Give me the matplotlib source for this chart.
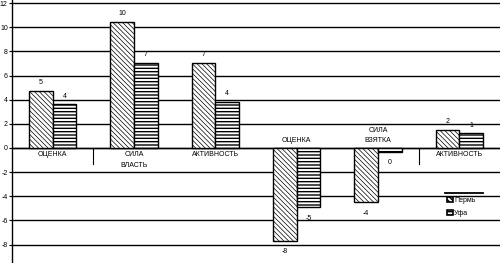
import matplotlib
matplotlib.use("Agg")
import matplotlib.pyplot as plt
import numpy as np
from matplotlib.patches import Patch
from matplotlib.lines import Line2D

categories = ["ОЦЕНКА", "СИЛА\nВЛАСТЬ", "АКТИВНОСТЬ", "ОЦЕНКА", "СИЛА\nВЗЯТКА", "АКТИВНОСТЬ"]
perm = [4.7, 10.4, 7.0, -7.7, -4.5, 1.5]
ufa = [3.6, 7.0, 3.8, -4.9, -0.3, 1.2]
perm_labels = ["5", "10", "7", "-8", "-4", "2"]
ufa_labels = ["4", "7", "4", "-5", "0", "1"]
yticks = [12, 10, 8, 6, 4, 2, 0, -2, -4, -6, -8]
series_names = ["Пермь", "Уфа"]

plt.rcParams['font.family'] = ['Liberation Sans', 'DejaVu Sans']

HATCH_P = "\\" * 7
HATCH_U = "-----"


def set_hlw(artists, lw):
    for a in artists:
        try:
            a.set_hatch_linewidth(lw)
        except Exception:
            pass


fig = plt.figure(figsize=(5, 2.63), dpi=100)
ax = fig.add_axes([0.024, 0.0, 0.976, 1.0])
ax.set_xlim(-0.5, 5.5)
ax.set_ylim(-9.52, 12.25)

x = np.arange(len(categories))
w = 0.29
plt.rcParams['hatch.linewidth'] = 0.5
bp = ax.bar(x - w / 2, perm, w, color="white", edgecolor="black", hatch=HATCH_P, linewidth=1.0, zorder=3)
set_hlw(bp.patches, 0.5)
plt.rcParams['hatch.linewidth'] = 1.0
bu = ax.bar(x + w / 2, ufa, w, color="white", edgecolor="black", hatch=HATCH_U, linewidth=1.0, zorder=3)
set_hlw(bu.patches, 1.0)

for xi, v, lab in zip(x - w / 2, perm, perm_labels):
    off = 0.7 if v >= 0 else -0.9
    ax.text(xi, v + off, lab, ha="center", va="center", fontsize=5)
for xi, v, lab in zip(x + w / 2, ufa, ufa_labels):
    off = 0.7 if v > 0 else -0.9
    ax.text(xi, v + off, lab, ha="center", va="center", fontsize=5)

for i, (cat, v) in enumerate(zip(categories, perm)):
    if v >= 0:
        ax.text(i, -0.25, cat, ha="center", va="top", fontsize=5, linespacing=1.7)
    else:
        ax.text(i, 0.3, cat, ha="center", va="bottom", fontsize=5, linespacing=1.7)

ax.set_yticks(yticks)
ax.set_yticklabels([str(t) for t in yticks], fontsize=5)
ax.tick_params(axis="y", length=2, pad=1)
ax.set_xticks([])
ax.grid(axis="y", color="black", linewidth=1.0, zorder=1)
ax.set_axisbelow(True)
ax.axhline(0, color="black", linewidth=1.0, zorder=2)
for sep in [0.5, 4.5]:
    ax.plot([sep, sep], [0, -1.3], color="black", linewidth=0.8, zorder=2)

for s in ["top", "right", "bottom"]:
    ax.spines[s].set_visible(False)
ax.spines["left"].set_linewidth(1.0)

handles = [Patch(facecolor="white", edgecolor="black", hatch=HATCH_P, linewidth=1.2),
           Patch(facecolor="white", edgecolor="black", hatch=HATCH_U, linewidth=1.2)]
leg = fig.legend(handles, series_names, loc="upper left", bbox_to_anchor=(0.885, 0.27),
                 frameon=False, fontsize=5, handlelength=0.8, handleheight=0.8,
                 handletextpad=0.2, labelspacing=0.9, borderpad=0.2)
fig.add_artist(Line2D([0.89, 0.966], [0.266, 0.266], color="black", linewidth=1.3,
                      transform=fig.transFigure))

fig.savefig("out.png", dpi=100)
